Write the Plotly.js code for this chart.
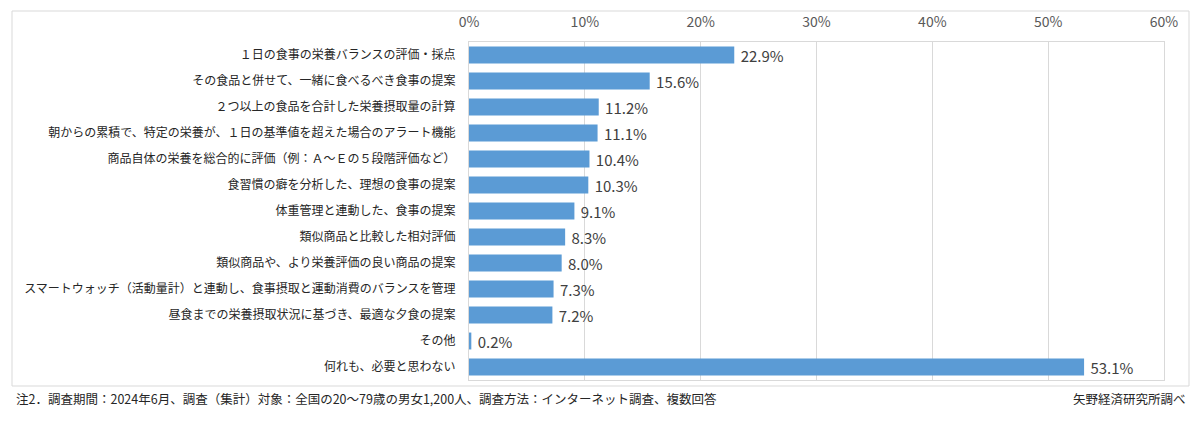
<!DOCTYPE html>
<html>
<head>
<meta charset="utf-8">
<script src="https://cdn.plot.ly/plotly-3.0.1.min.js"></script>
<style>
html,body{margin:0;padding:0;background:#fff;}
#chart{width:1199px;height:439px;}
</style>
</head>
<body>
<div id="chart"></div>
<script>
const categories = [
  "１日の食事の栄養バランスの評価・採点",
  "その食品と併せて、一緒に食べるべき食事の提案",
  "２つ以上の食品を合計した栄養摂取量の計算",
  "朝からの累積で、特定の栄養が、１日の基準値を超えた場合のアラート機能",
  "商品自体の栄養を総合的に評価（例：Ａ～Ｅの５段階評価など）",
  "食習慣の癖を分析した、理想の食事の提案",
  "体重管理と連動した、食事の提案",
  "類似商品と比較した相対評価",
  "類似商品や、より栄養評価の良い商品の提案",
  "スマートウォッチ（活動量計）と連動し、食事摂取と運動消費のバランスを管理",
  "昼食までの栄養摂取状況に基づき、最適な夕食の提案",
  "その他",
  "何れも、必要と思わない"
];
const values = [22.9, 15.6, 11.2, 11.1, 10.4, 10.3, 9.1, 8.3, 8.0, 7.3, 7.2, 0.2, 53.1];
const tickValues = [0, 10, 20, 30, 40, 50, 60];
const tickLabels = ["0%", "10%", "20%", "30%", "40%", "50%", "60%"];
const footnote = "注2．調査期間：2024年6月、調査（集計）対象：全国の20～79歳の男女1,200人、調査方法：インターネット調査、複数回答";
const source = "矢野経済研究所調べ";

// pixel layout helpers
const W = 1199, Hh = 439;
const PL = 469, PR = 1164, PT = 42, PB = 380;
const pw = PR - PL, ph = PB - PT;
const px = x => (x - PL) / pw;
const py = y => (PB - y) / ph;

const FONT = '"Noto Sans CJK JP", "Noto Sans", sans-serif';

const trace = {
  type: 'bar',
  orientation: 'h',
  x: values,
  y: categories,
  marker: {color: '#5b9bd5'},
  text: values.map(v => ' ' + v.toFixed(1) + '%'),
  textposition: 'outside',
  constraintext: 'none',
  textfont: {family: FONT, size: 15, color: '#404040'},
  cliponaxis: false,
  hoverinfo: 'x+y'
};

const layout = {
  width: W,
  height: Hh,
  margin: {l: PL, r: W - PR, t: PT, b: Hh - PB, pad: 0},
  paper_bgcolor: '#ffffff',
  plot_bgcolor: '#ffffff',
  showlegend: false,
  bargap: 0.35,
  font: {family: FONT, color: '#262626'},
  xaxis: {
    side: 'top',
    range: [0, 60],
    tickvals: tickValues,
    ticktext: tickLabels,
    showgrid: true,
    gridcolor: '#d9d9d9',
    gridwidth: 1,
    zeroline: false,
    showline: true,
    mirror: true,
    linecolor: '#d9d9d9',
    linewidth: 1,
    ticks: '',
    ticklabelstandoff: 8,
    tickfont: {family: FONT, size: 14, color: '#595959'},
    fixedrange: true
  },
  yaxis: {
    type: 'category',
    autorange: 'reversed',
    showgrid: false,
    zeroline: false,
    showline: true,
    mirror: true,
    linecolor: '#d9d9d9',
    linewidth: 1,
    ticks: '',
    ticklabelstandoff: 10,
    tickfont: {family: FONT, size: 12, color: '#262626'},
    fixedrange: true
  },
  shapes: [{
    type: 'rect', xref: 'paper', yref: 'paper',
    x0: px(12), x1: px(1189), y0: py(386), y1: py(11),
    line: {color: '#d9d9d9', width: 1},
    fillcolor: 'rgba(0,0,0,0)',
    layer: 'below'
  }],
  annotations: [
    {xref: 'paper', yref: 'paper', x: px(14), y: py(398), xanchor: 'left', yanchor: 'middle',
     text: footnote, showarrow: false, font: {family: FONT, size: 12.5, color: '#262626'}},
    {xref: 'paper', yref: 'paper', x: px(1188), y: py(398), xanchor: 'right', yanchor: 'middle',
     text: source, showarrow: false, font: {family: FONT, size: 12.5, color: '#262626'}}
  ]
};

Plotly.newPlot('chart', [trace], layout, {displayModeBar: false, staticPlot: true});
</script>
</body>
</html>
